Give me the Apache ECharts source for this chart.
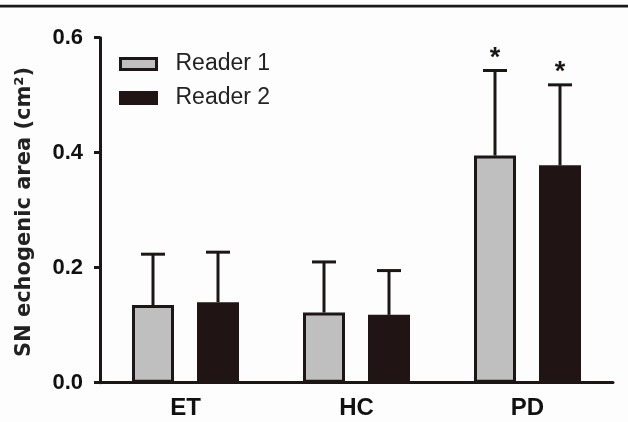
<!DOCTYPE html>
<html>
<head>
<meta charset="utf-8">
<script src="https://cdn.jsdelivr.net/npm/echarts@6/dist/echarts.min.js"></script>
<style>
html,body{margin:0;padding:0;background:#fdfdfd;}
#c{width:628px;height:422px;}
</style>
</head>
<body>
<div id="c"></div>
<script>
// ---- data ----
const categories = ['ET', 'HC', 'PD'];
const seriesNames = ['Reader 1', 'Reader 2'];
const reader1Mean = [0.135, 0.122, 0.395];
const reader1Upper = [0.2235, 0.210, 0.543];
const reader2Mean = [0.140, 0.118, 0.378];
const reader2Upper = [0.227, 0.195, 0.518];
const reader1Marks = ['', '', '*'];
const reader2Marks = ['', '', '*'];
const yTickLabels = ['0.0', '0.2', '0.4', '0.6'];
const yAxisTitle = 'SN echogenic area (cm\u00B2)';

// ---- style ----
const INK = '#1c1616';
const GREY = '#bfbfbf';
const DARK = '#201414';
const BAR_W = 42;
const BAR_GAP_PX = 23;
const OFFSET = (BAR_W + BAR_GAP_PX) / 2;

function errData(means, uppers, marks) {
  return categories.map((c, i) => [i, means[i], uppers[i], marks[i]]);
}
const marks = [reader1Marks, reader2Marks];

function makeErrRender(sign) {
  return function (params, api) {
    const idx = api.value(0);
    const xc = api.coord([idx, 0])[0] + sign * OFFSET;
    const yBase = api.coord([idx, api.value(1)])[1];
    const yTop = api.coord([idx, api.value(2)])[1];
    const mark = marks[sign < 0 ? 0 : 1][idx];
    const children = [
      { type: 'line', shape: { x1: xc, y1: yBase, x2: xc, y2: yTop },
        style: { stroke: INK, lineWidth: 3 } },
      { type: 'line', shape: { x1: xc - 12, y1: yTop, x2: xc + 12, y2: yTop },
        style: { stroke: INK, lineWidth: 3 } }
    ];
    if (mark) {
      children.push({ type: 'text', style: {
        text: mark, x: xc, y: yTop - 12, align: 'center', verticalAlign: 'middle',
        font: 'bold 27px "Liberation Sans", Arial, sans-serif', fill: INK } });
    }
    return { type: 'group', children: children };
  };
}

const chart = echarts.init(document.getElementById('c'), null, { renderer: 'canvas' });
chart.setOption({
  backgroundColor: '#fdfdfd',
  animation: false,
  grid: { left: 100, right: 15, top: 37.7, bottom: 39.3, containLabel: false },
  legend: {
    orient: 'vertical', left: 114, top: 47, itemGap: 10,
    itemWidth: 36, itemHeight: 11, icon: 'rect',
    itemStyle: { borderWidth: 3 },
    textStyle: { fontFamily: '"Liberation Sans", Arial, sans-serif', fontSize: 23,
      color: '#222', lineHeight: 24, padding: [0, 0, 0, 14] },
    data: [
      { name: seriesNames[0], itemStyle: { color: GREY, borderColor: INK, borderWidth: 3 } },
      { name: seriesNames[1], itemStyle: { color: DARK, borderColor: DARK, borderWidth: 3 } }
    ]
  },
  graphic: [
    { type: 'rect', shape: { x: 0, y: 4.8, width: 628, height: 2.6 }, style: { fill: '#1a1a1a' } },
    { type: 'text', x: 25, y: 212, rotation: Math.PI / 2,
      style: { text: yAxisTitle, align: 'center', verticalAlign: 'middle',
        font: 'bold 21px "DejaVu Sans", sans-serif', fill: '#222' } }
  ],
  xAxis: {
    type: 'category', data: categories,
    axisLine: { lineStyle: { color: INK, width: 3 } },
    axisTick: { alignWithLabel: true, length: 8, lineStyle: { color: INK, width: 3 } },
    axisLabel: { margin: 14, color: '#111', fontSize: 24, fontWeight: 'bold',
      fontFamily: '"Liberation Sans", Arial, sans-serif' }
  },
  yAxis: {
    type: 'value', min: 0, max: 0.6, interval: 0.2,
    axisLine: { show: true, lineStyle: { color: INK, width: 3 } },
    axisTick: { show: true, length: 6, lineStyle: { color: INK, width: 3 } },
    splitLine: { show: false },
    axisLabel: { margin: 17, color: '#111', fontSize: 22, fontWeight: 'bold',
      fontFamily: '"Liberation Sans", Arial, sans-serif',
      formatter: function (v) { return yTickLabels[Math.round(v / 0.2)]; } }
  },
  series: [
    { name: seriesNames[0], type: 'bar', data: reader1Mean, barWidth: BAR_W,
      barGap: (BAR_GAP_PX / BAR_W * 100) + '%',
      itemStyle: { color: GREY, borderColor: INK, borderWidth: 3 } },
    { name: seriesNames[1], type: 'bar', data: reader2Mean, barWidth: BAR_W,
      itemStyle: { color: DARK, borderColor: DARK, borderWidth: 3 } },
    { type: 'custom', name: 'err1', data: errData(reader1Mean, reader1Upper, reader1Marks),
      renderItem: makeErrRender(-1), z: 3, silent: true },
    { type: 'custom', name: 'err2', data: errData(reader2Mean, reader2Upper, reader2Marks),
      renderItem: makeErrRender(1), z: 3, silent: true }
  ]
});
</script>
</body>
</html>
